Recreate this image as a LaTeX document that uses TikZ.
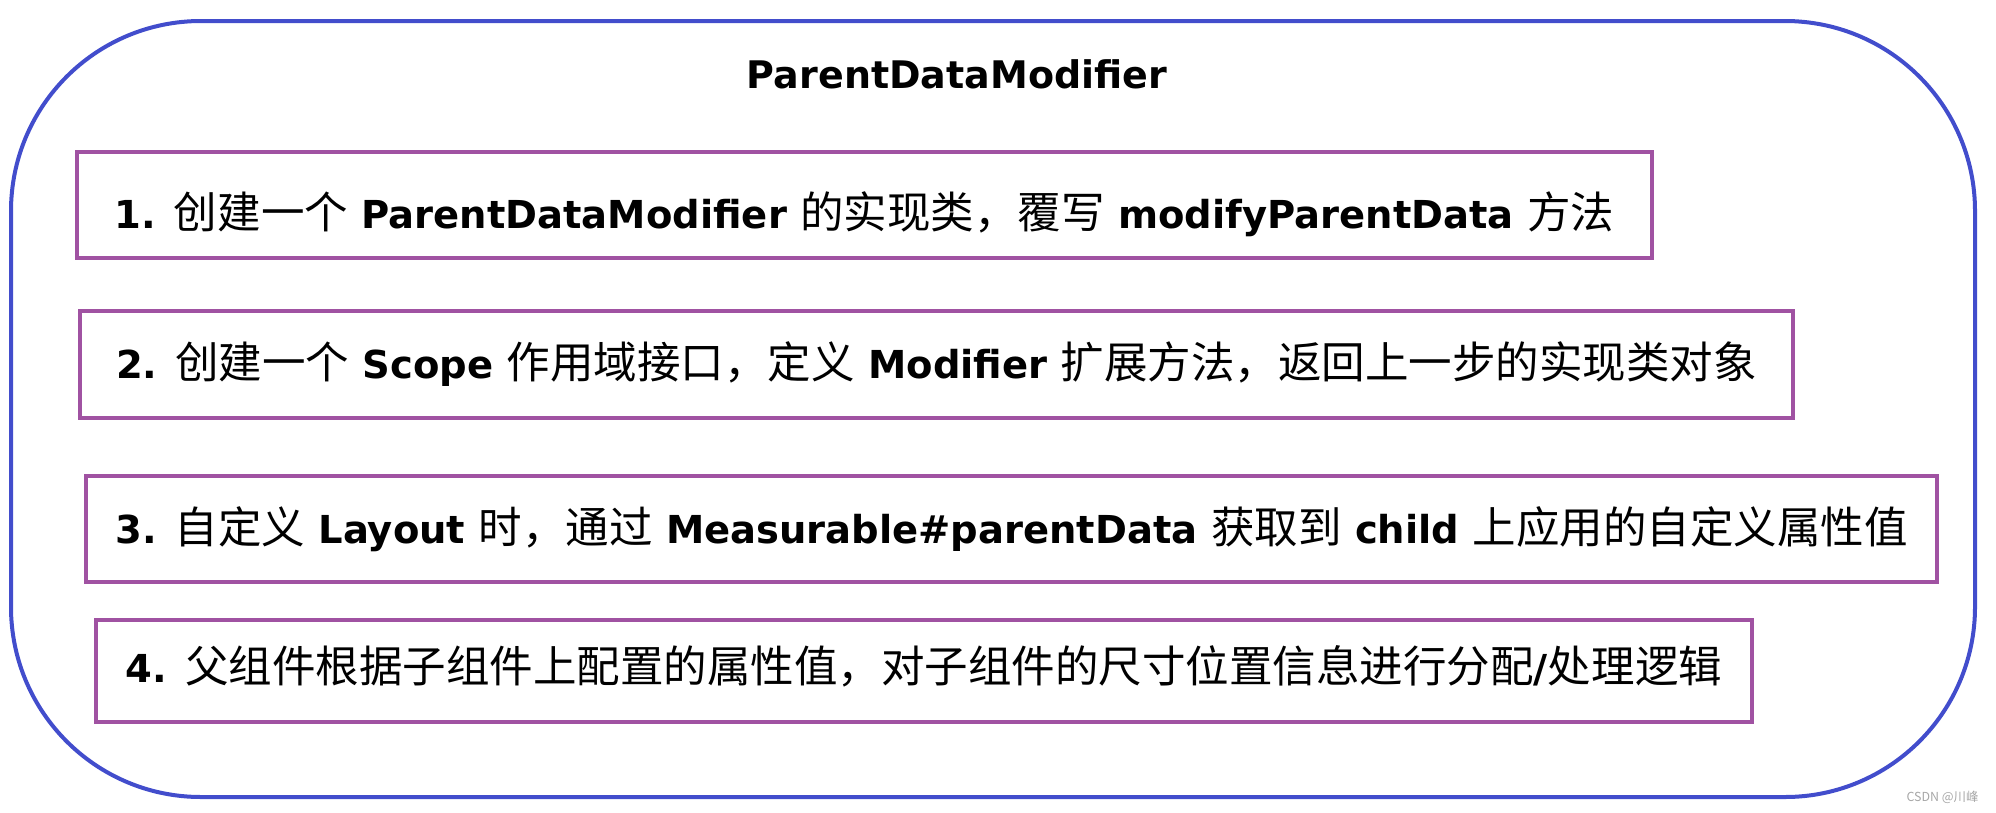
\documentclass[tikz,border=0pt]{standalone}
\usepackage{fontspec}
\setmainfont{DejaVu Sans}
\newfontfamily\cjk[Scale=1.13]{Noto Sans CJK SC}
\usepackage{tikz}
\usetikzlibrary{positioning}
\definecolor{frameblue}{RGB}{66,77,204}
\definecolor{steppurple}{RGB}{160,82,162}
\newcommand{\zh}[1]{{\cjk\mdseries #1}}
\tikzset{step box/.style={rectangle,draw=steppurple,line width=4pt,inner sep=0pt,font=\fontsize{38.5}{46}\selectfont\bfseries},}

\begin{document}
\begin{tikzpicture}[x=1pt,y=-1pt]
    \useasboundingbox (0,0) rectangle (1996,812);
    \draw[frameblue,line width=4pt,rounded corners=190pt] (11,21) rectangle (1975,797);

    \node[anchor=base,font=\fontsize{38}{46}\selectfont\bfseries] (title) at (957,88) {ParentDataModifier};

    \node[step box,minimum width=1575pt,minimum height=106pt,text height=46pt,text depth=0pt] (s1) at (864.5,205)
        {1. \zh{创建一个} ParentDataModifier \zh{的实现类，覆写} modifyParentData \zh{方法}};
    \node[step box,minimum width=1713pt,minimum height=107pt,text height=28pt,text depth=0pt] (s2) at (936.5,364.5)
        {2. \zh{创建一个} Scope \zh{作用域接口，定义} Modifier \zh{扩展方法，返回上一步的实现类对象}};
    \node[step box,minimum width=1851pt,minimum height=106pt,text height=28pt,text depth=0pt] (s3) at (1011.5,529)
        {3. \zh{自定义} Layout \zh{时，通过} Measurable\#parentData \zh{获取到} child \zh{上应用的自定义属性值}};
    \node[step box,minimum width=1656pt,minimum height=102pt,text height=22pt,text depth=0pt] (s4) at (924,671)
        {4. \zh{父组件根据子组件上配置的属性值，对子组件的尺寸位置信息进行分配}/\zh{处理逻辑}};

    \node[anchor=east,text=gray!70,font=\cjk\fontsize{11}{13}\selectfont] (mark) at (1982,797) {CSDN @川峰};
\end{tikzpicture}
\end{document}
